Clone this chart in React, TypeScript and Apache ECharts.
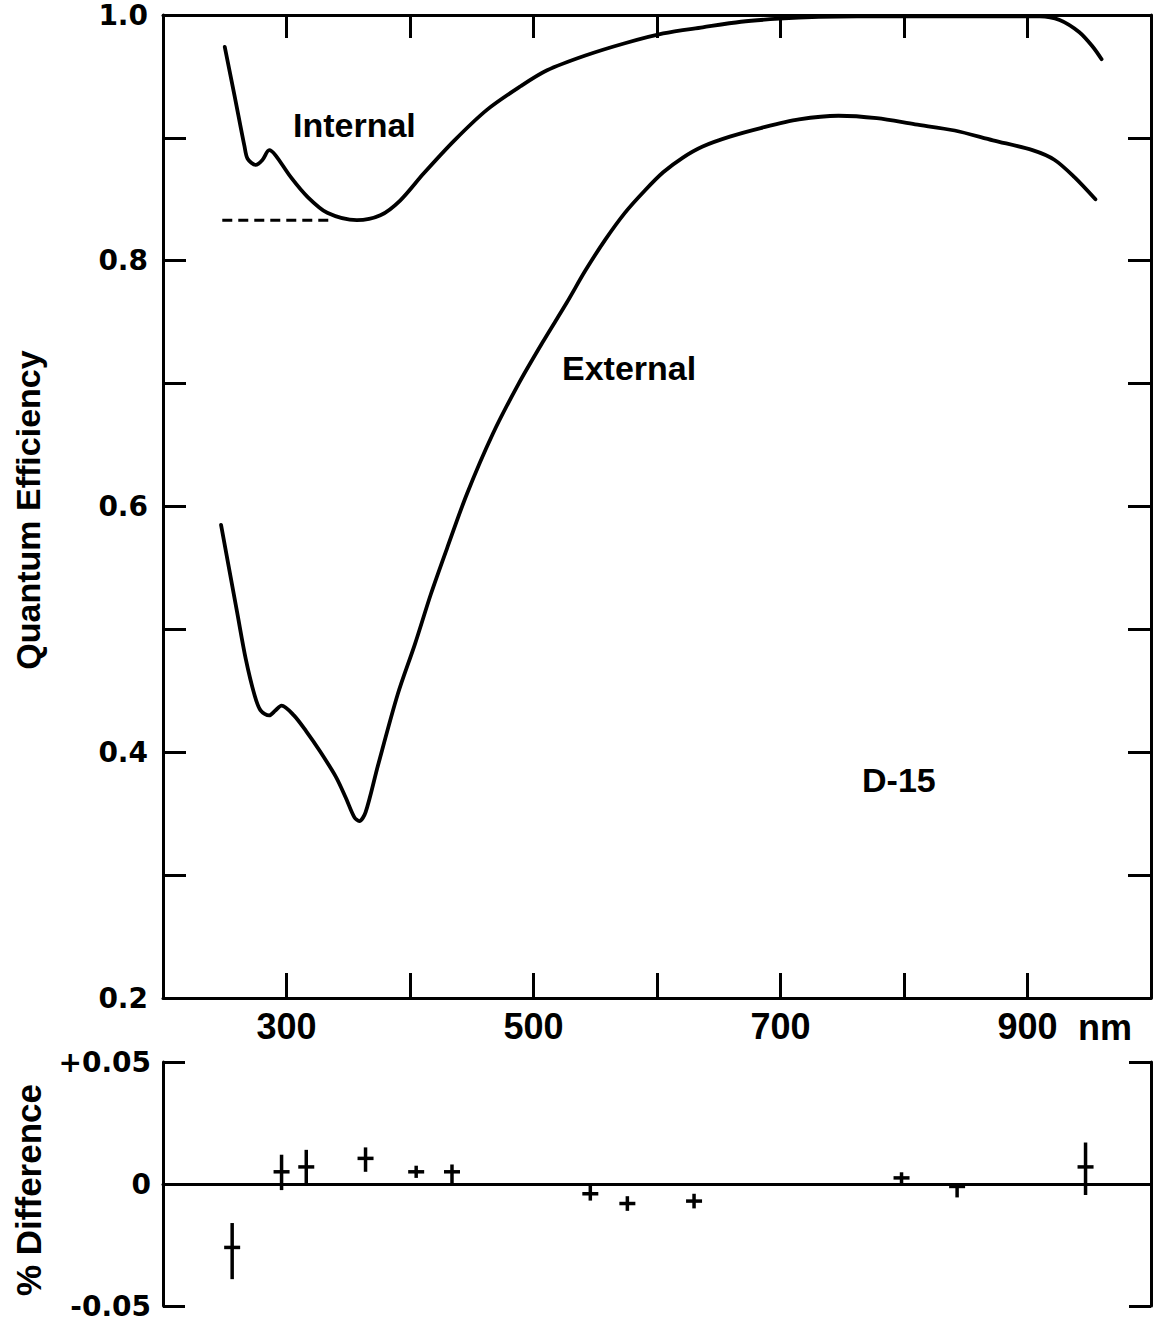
import React, { useEffect, useRef } from "react";
import * as echarts from "echarts";

// Wavelength (nm) and quantum efficiency, Internal curve
const internalNm = [250, 258, 266, 268.5, 275, 280.5, 286, 291, 303.5, 317, 333, 357, 376, 392, 411, 436, 462.5, 489.5, 511, 542, 574, 605, 637, 668, 699, 731, 762, 800, 850, 885, 910, 926, 942, 953, 960];
const internalQE = [0.974, 0.934, 0.893, 0.883, 0.878, 0.882, 0.89, 0.886, 0.868, 0.852, 0.839, 0.833, 0.837, 0.849, 0.871, 0.898, 0.923, 0.942, 0.955, 0.967, 0.977, 0.985, 0.99, 0.9945, 0.997, 0.9985, 0.999, 0.999, 0.999, 0.999, 0.999, 0.996, 0.986, 0.974, 0.964];

// External curve
const externalNm = [247, 260, 267, 274, 279, 286, 291, 296, 306, 316, 327, 340, 348, 355, 359, 364, 374, 390, 404, 417, 430, 446, 467, 488, 507, 527, 542, 558, 574, 590, 605, 621, 637, 659, 684, 715, 747, 778, 809, 841, 872, 904, 922, 938, 955];
const externalQE = [0.585, 0.514, 0.476, 0.447, 0.434, 0.43, 0.434, 0.438, 0.43, 0.417, 0.401, 0.38, 0.363, 0.347, 0.344, 0.351, 0.389, 0.447, 0.488, 0.529, 0.566, 0.61, 0.659, 0.7, 0.733, 0.766, 0.792, 0.817, 0.839, 0.857, 0.872, 0.884, 0.893, 0.901, 0.908, 0.915, 0.918, 0.916, 0.911, 0.906, 0.898, 0.89, 0.882, 0.868, 0.85];

// Dashed extrapolation
const dashedNm = [248, 337];
const dashedQE = [0.833, 0.833];

// % Difference panel
const diffNm = [256, 296, 316, 364, 405, 434, 546, 576, 630, 798, 843, 947];
const diffVal = [-0.026, 0.005, 0.007, 0.0105, 0.005, 0.005, -0.004, -0.008, -0.007, 0.0025, -0.001, 0.007];
const diffLo = [-0.039, -0.0025, 0, 0.005, 0.0025, 0, -0.0068, -0.011, -0.01, 0, -0.0055, -0.0045];
const diffHi = [-0.016, 0.012, 0.014, 0.015, 0.0075, 0.008, 0, -0.005, -0.004, 0.0048, 0, 0.017];

// Tick labels
const xLabelValues = [300, 500, 700, 900];
const yLabelValues = [0.2, 0.4, 0.6, 0.8, 1.0];

const INK = "#000";
const LW = 3;
const CURVE_W = 3.8;
const labelFont = "'Liberation Sans', Arial, sans-serif";
const wideFont = "'DejaVu Sans', sans-serif";

export default function App() {
  const ref = useRef<HTMLDivElement>(null);

  useEffect(() => {
    if (!ref.current) return;
    const chart = echarts.init(ref.current, null, { renderer: "svg" });

    const axisLine = { show: true, lineStyle: { color: INK, width: LW } };
    const tickStyle = { color: INK, width: LW };

    const option: any = {
      animation: false,
      backgroundColor: "#fff",
      grid: [
        { left: 163, top: 15, width: 988, height: 983 },
        { left: 163, top: 1062, width: 988, height: 244 },
      ],
      xAxis: [
        {
          gridIndex: 0, type: "value", min: 200, max: 1000, interval: 100, position: "bottom",
          axisLine, splitLine: { show: false },
          axisTick: { show: true, inside: true, length: 25, lineStyle: tickStyle },
          axisLabel: {
            interval: 0, margin: 10, color: INK, fontFamily: labelFont, fontWeight: "bold", fontSize: 36,
            formatter: (v: number) => (xLabelValues.includes(Math.round(v)) ? String(Math.round(v)) : ""),
          },
        },
        {
          gridIndex: 0, type: "value", min: 200, max: 1000, interval: 100, position: "top",
          axisLine, splitLine: { show: false },
          axisTick: { show: true, inside: true, length: 23, lineStyle: tickStyle },
          axisLabel: { show: false },
        },
        {
          gridIndex: 1, type: "value", min: 200, max: 1000, interval: 100,
          axisLine: { show: true, onZero: true, lineStyle: { color: INK, width: LW } },
          splitLine: { show: false }, axisTick: { show: false }, axisLabel: { show: false },
        },
      ],
      yAxis: [
        {
          gridIndex: 0, type: "value", min: 0.2, max: 1.0, interval: 0.1, position: "left",
          axisLine, splitLine: { show: false },
          axisTick: { show: true, inside: true, length: 23, lineStyle: tickStyle },
          axisLabel: {
            margin: 15, color: INK, fontFamily: wideFont, fontWeight: "bold", fontSize: 28,
            formatter: (v: number) => {
              const r = Math.round(v * 10) / 10;
              return yLabelValues.some((t) => Math.abs(t - r) < 1e-6) ? r.toFixed(1) : "";
            },
          },
        },
        {
          gridIndex: 0, type: "value", min: 0.2, max: 1.0, interval: 0.1, position: "right",
          axisLine, splitLine: { show: false },
          axisTick: { show: true, inside: true, length: 23, lineStyle: tickStyle },
          axisLabel: { show: false },
        },
        {
          gridIndex: 1, type: "value", min: -0.05, max: 0.05, interval: 0.05, position: "left",
          axisLine, splitLine: { show: false },
          axisTick: { show: true, inside: true, length: 22, lineStyle: tickStyle },
          axisLabel: {
            margin: 12, color: INK, fontFamily: wideFont, fontWeight: "bold", fontSize: 28,
            formatter: (v: number) => (Math.abs(v) < 1e-9 ? "0" : v > 0 ? "+0.05" : "-0.05"),
          },
        },
        {
          gridIndex: 1, type: "value", min: -0.05, max: 0.05, interval: 0.05, position: "right",
          axisLine, splitLine: { show: false },
          axisTick: { show: true, inside: true, length: 22, lineStyle: tickStyle },
          axisLabel: { show: false },
        },
      ],
      series: [
        {
          type: "line", xAxisIndex: 0, yAxisIndex: 0, symbol: "none", smooth: 0.3,
          lineStyle: { color: INK, width: CURVE_W, cap: "round", join: "round" },
          data: internalNm.map((x, i) => [x, internalQE[i]]),
        },
        {
          type: "line", xAxisIndex: 0, yAxisIndex: 0, symbol: "none", smooth: 0.3,
          lineStyle: { color: INK, width: CURVE_W, cap: "round", join: "round" },
          data: externalNm.map((x, i) => [x, externalQE[i]]),
        },
        {
          type: "line", xAxisIndex: 0, yAxisIndex: 0, symbol: "none",
          lineStyle: { color: INK, width: 3, type: [10, 6] },
          data: dashedNm.map((x, i) => [x, dashedQE[i]]),
        },
        {
          type: "custom", xAxisIndex: 2, yAxisIndex: 2,
          data: diffNm.map((x, i) => [x, diffVal[i], diffLo[i], diffHi[i]]),
          renderItem: (params: any, api: any) => {
            const x = api.value(0);
            const c = api.coord([x, api.value(1)]);
            const lo = api.coord([x, api.value(2)]);
            const hi = api.coord([x, api.value(3)]);
            const style = { stroke: INK, lineWidth: 3.5, fill: null };
            return {
              type: "group",
              children: [
                { type: "line", shape: { x1: lo[0], y1: lo[1], x2: hi[0], y2: hi[1] }, style },
                { type: "line", shape: { x1: c[0] - 8, y1: c[1], x2: c[0] + 8, y2: c[1] }, style },
              ],
            };
          },
        },
      ],
      graphic: [
        {
          type: "text", x: 1078, y: 1027,
          style: { text: "nm", fill: INK, font: `bold 36px ${labelFont}`, textVerticalAlign: "middle" },
        },
        {
          type: "text", x: 293, y: 125,
          style: { text: "Internal", fill: INK, font: `bold 34px ${labelFont}`, textVerticalAlign: "middle" },
        },
        {
          type: "text", x: 562, y: 368,
          style: { text: "External", fill: INK, font: `bold 34px ${labelFont}`, textVerticalAlign: "middle" },
        },
        {
          type: "text", x: 862, y: 780,
          style: { text: "D-15", fill: INK, font: `bold 34px ${labelFont}`, textVerticalAlign: "middle" },
        },
        {
          type: "text", x: 28, y: 510, rotation: Math.PI / 2,
          style: { text: "Quantum Efficiency", fill: INK, font: `bold 34px ${labelFont}`, textAlign: "center", textVerticalAlign: "middle" },
        },
        {
          type: "text", x: 28, y: 1190, rotation: Math.PI / 2,
          style: { text: "% Difference", fill: INK, font: `bold 35px ${labelFont}`, textAlign: "center", textVerticalAlign: "middle" },
        },
      ],
    };

    chart.setOption(option);
    return () => chart.dispose();
  }, []);

  return (
    <div
      ref={ref}
      style={{ position: "absolute", left: 0, top: 0, width: 1159, height: 1322, background: "#fff" }}
    />
  );
}
